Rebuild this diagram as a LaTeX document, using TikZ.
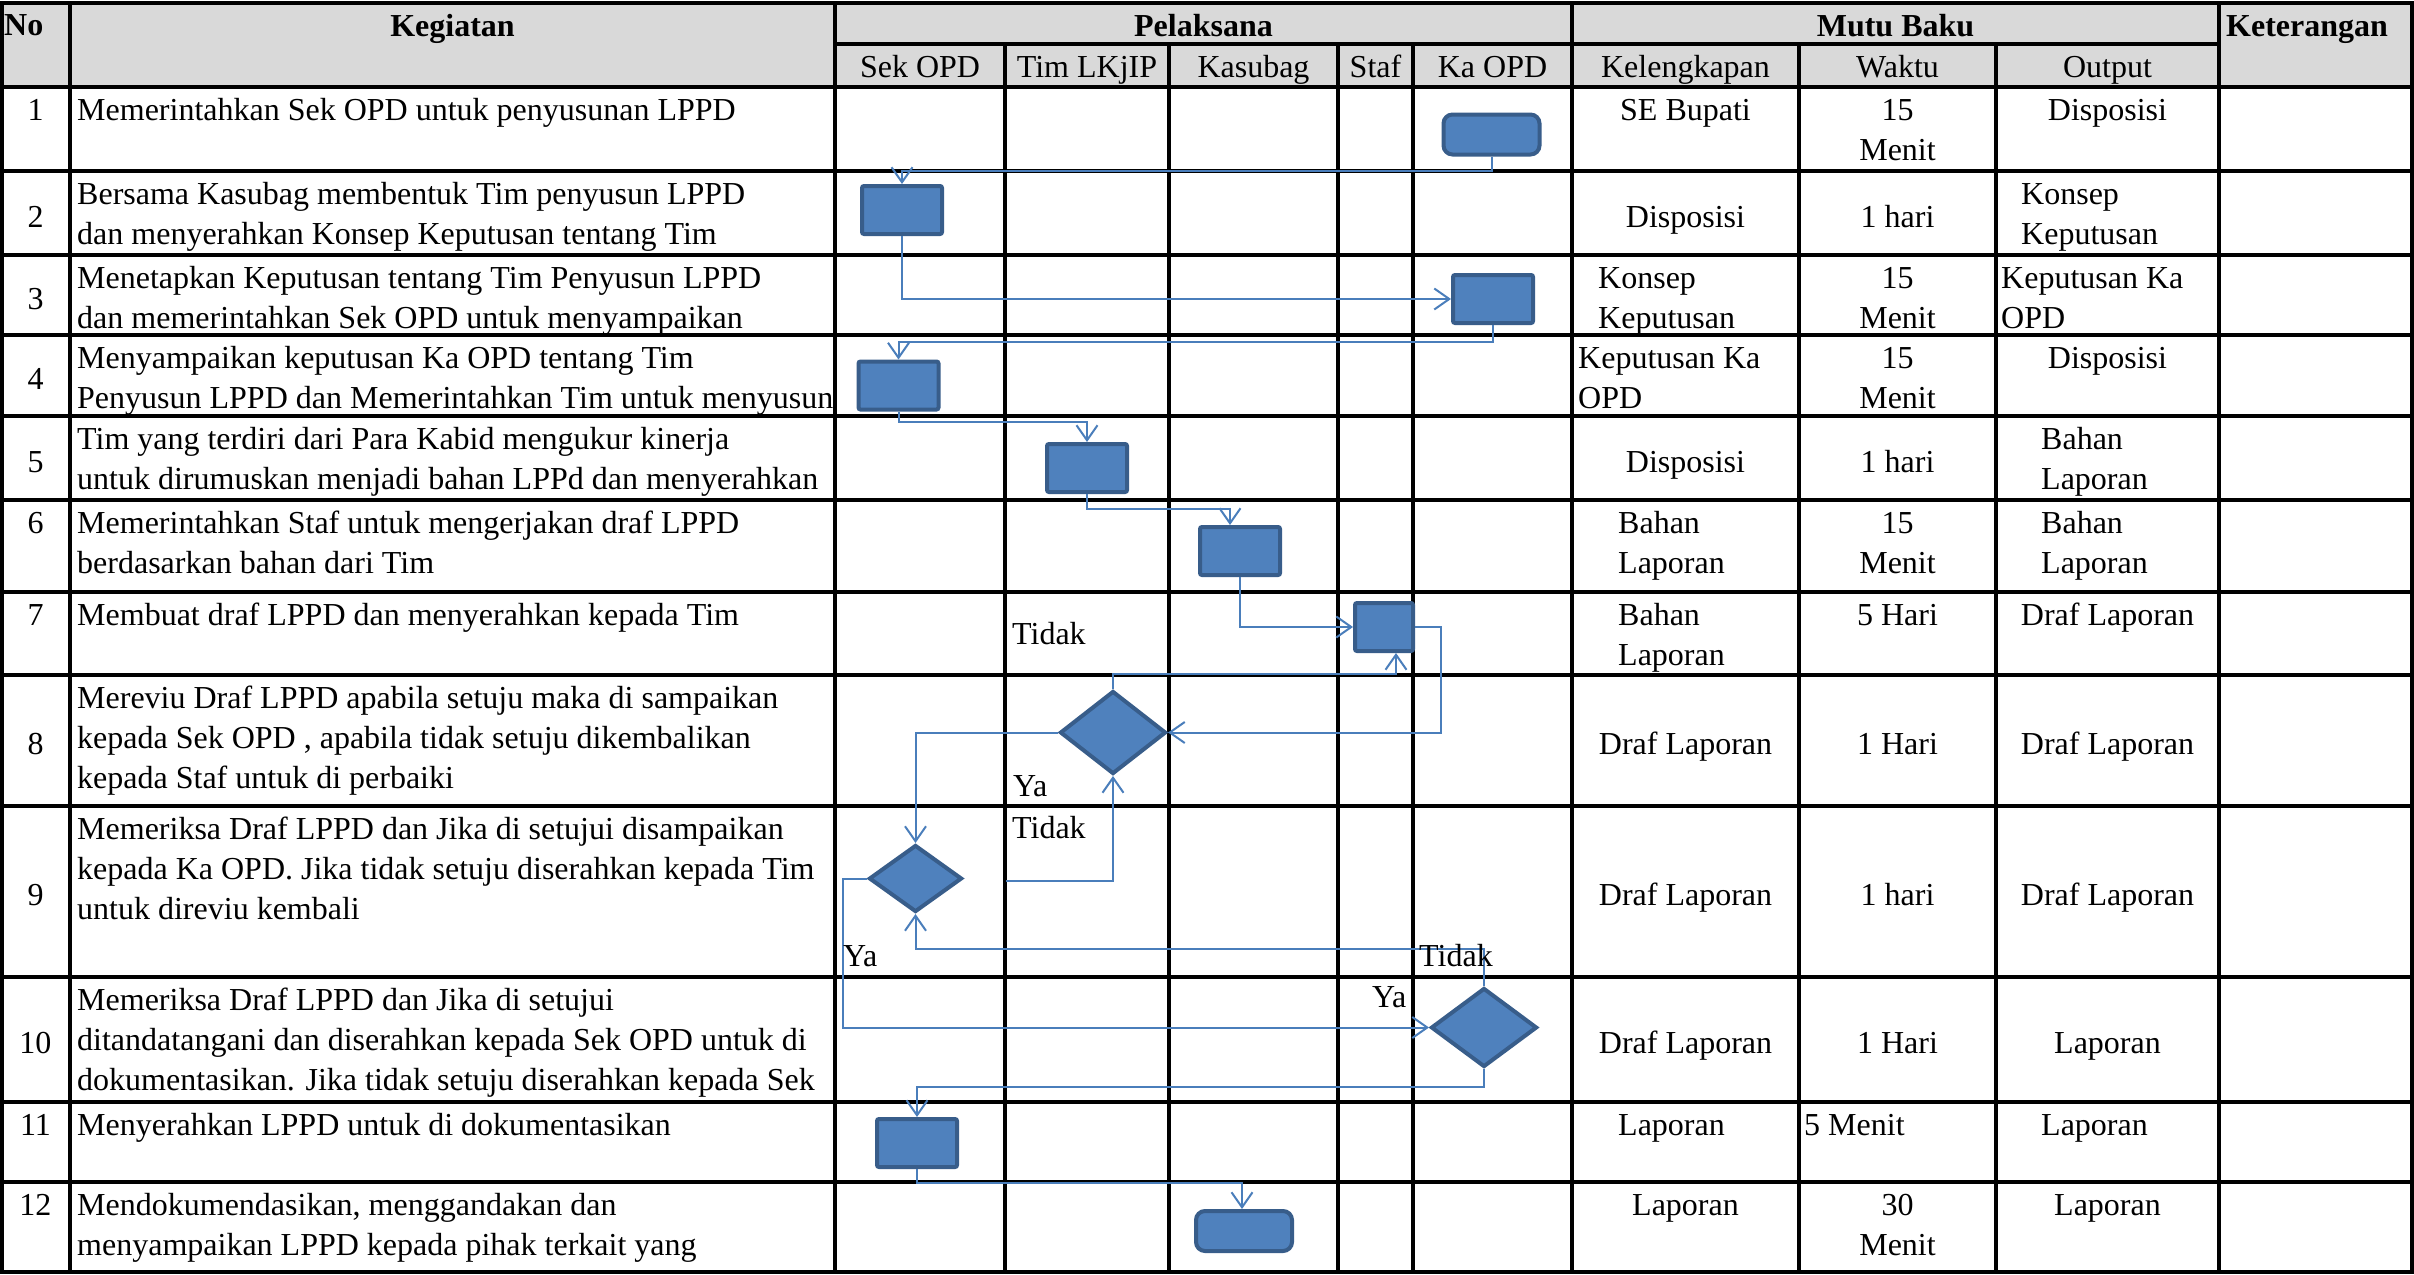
\documentclass[tikz,border=0pt]{standalone}
\usepackage{fontspec}
\setmainfont{Liberation Serif}
\usetikzlibrary{arrows.meta,shapes.geometric,calc}
\definecolor{boxfill}{HTML}{4F81BD}
\definecolor{boxline}{HTML}{385D8A}
\definecolor{connc}{HTML}{4A7EBB}
\definecolor{hdr}{HTML}{D9D9D9}
\newfontfamily\tnr{Liberation Serif}
\newcommand\tf{\tnr\fontsize{32}{40}\selectfont}
\begin{document}
\begin{tikzpicture}[x=1pt,y=-1pt,
  gridline/.style={line width=3.8pt,black},
  tl/.style={inner sep=0pt,font=\tf,align=left,anchor=north west,yshift=-4pt},
  tc/.style={inner sep=0pt,font=\tf,align=center,anchor=north,yshift=-4pt},
  htl/.style={inner sep=0pt,font=\tf,align=left,anchor=north west,yshift=-1.5pt},
  htc/.style={inner sep=0pt,font=\tf,align=center,anchor=north,yshift=-1.5pt},
  lab/.style={inner sep=0pt,font=\tf,anchor=north west},
  hb/.style={font=\tf\bfseries},
  procbox/.style={draw=boxline,fill=boxfill,line width=4pt,rounded corners=2pt,inner sep=0pt,minimum width=80pt,minimum height=48pt},
  termbox/.style={draw=boxline,fill=boxfill,line width=4pt,rounded corners=9pt,inner sep=0pt,minimum width=96pt,minimum height=40pt},
  decbox/.style={diamond,draw=boxline,fill=boxfill,line width=4pt,inner sep=0pt},
  conn/.style={draw=connc,line width=2pt,-{Straight Barb[length=15pt,width=21pt]}}]
\useasboundingbox (0,0) rectangle (2414,1274);
\fill[white] (0,0) rectangle (2414,1274);
\fill[hdr] (2,3) rectangle (2412,87);

% header texts
\node[htl,hb] (hno) at (4,6) {\strut No};
\node[htc,hb] (hkeg) at (452.5,7) {\strut Kegiatan};
\node[htc,hb] (hpel) at (1203.5,7) {\strut Pelaksana};
\node[htc,hb] (hmutu) at (1895.5,7) {\strut Mutu Baku};
\node[htl,hb] (hket) at (2226,7) {\strut Keterangan};
\node[htc] (hsek) at (920,48) {\strut Sek OPD};
\node[htc] (htim) at (1087,48) {\strut Tim LKjIP};
\node[htc] (hkas) at (1253.5,48) {\strut Kasubag};
\node[htc] (hstaf) at (1375.5,48) {\strut Staf};
\node[htc] (hka) at (1492.5,48) {\strut Ka OPD};
\node[htc] (hkel) at (1685.5,48) {\strut Kelengkapan};
\node[htc] (hwak) at (1897.5,48) {\strut Waktu};
\node[htc] (hout) at (2107.5,48) {\strut Output};

% numbers
\node[tc] (n1) at (35.5,88) {\strut 1};
\node[tc] (n2) at (35.5,195) {\strut 2};
\node[tc] (n3) at (35.5,277) {\strut 3};
\node[tc] (n4) at (35.5,357.5) {\strut 4};
\node[tc] (n5) at (35.5,440) {\strut 5};
\node[tc] (n6) at (35.5,501) {\strut 6};
\node[tc] (n7) at (35.5,593) {\strut 7};
\node[tc] (n8) at (35.5,722.5) {\strut 8};
\node[tc] (n9) at (35.5,873.5) {\strut 9};
\node[tc] (n10) at (35.5,1021.5) {\strut 10};
\node[tc] (n11) at (35.5,1103) {\strut 11};
\node[tc] (n12) at (35.5,1183) {\strut 12};

% kegiatan
\node[tl] (k1) at (77,88) {\strut Memerintahkan Sek OPD untuk penyusunan LPPD};
\node[tl] (k2) at (77,172) {\strut Bersama Kasubag membentuk Tim penyusun LPPD\\dan menyerahkan Konsep Keputusan tentang Tim};
\node[tl] (k3) at (77,256) {\strut Menetapkan Keputusan tentang Tim Penyusun LPPD\\dan memerintahkan Sek OPD untuk menyampaikan};
\node[tl] (k4) at (77,336) {\strut Menyampaikan keputusan Ka OPD tentang Tim\\Penyusun LPPD dan Memerintahkan Tim untuk menyusun};
\node[tl] (k5) at (77,417) {\strut Tim yang terdiri dari Para Kabid mengukur kinerja\\untuk dirumuskan menjadi bahan LPPd dan menyerahkan};
\node[tl] (k6) at (77,501) {\strut Memerintahkan Staf untuk mengerjakan draf LPPD\\berdasarkan bahan dari Tim};
\node[tl] (k7) at (77,593) {\strut Membuat draf LPPD dan menyerahkan kepada Tim};
\node[tl] (k8) at (77,676) {\strut Mereviu Draf LPPD apabila setuju maka di sampaikan\\kepada Sek OPD , apabila tidak setuju dikembalikan\\kepada Staf untuk di perbaiki};
\node[tl] (k9) at (77,807) {\strut Memeriksa Draf LPPD dan Jika di setujui disampaikan\\kepada Ka OPD. Jika tidak setuju diserahkan kepada Tim\\untuk direviu kembali};
\node[tl] (k10) at (77,978) {\strut Memeriksa Draf LPPD dan Jika di setujui\\ditandatangani dan diserahkan kepada Sek OPD untuk di\\dokumentasikan. Jika tidak setuju diserahkan kepada Sek};
\node[tl] (k11) at (77,1103) {\strut Menyerahkan LPPD untuk di dokumentasikan};
\node[tl] (k12) at (77,1183) {\strut Mendokumendasikan, menggandakan dan\\menyampaikan LPPD kepada pihak terkait yang};

% mutu baku
\node[tc] (a1) at (1685.5,88) {\strut SE Bupati};
\node[tc] (b1) at (1897.5,88) {\strut 15\\Menit};
\node[tc] (c1) at (2107.5,88) {\strut Disposisi};
\node[tc] (a2) at (1685.5,195) {\strut Disposisi};
\node[tc] (b2) at (1897.5,195) {\strut 1 hari};
\node[tl] (c2) at (2021,172) {\strut Konsep\\Keputusan};
\node[tl] (a3) at (1598,256) {\strut Konsep\\Keputusan};
\node[tc] (b3) at (1897.5,256) {\strut 15\\Menit};
\node[tl] (c3) at (2001,256) {\strut Keputusan Ka\\OPD};
\node[tl] (a4) at (1578,336) {\strut Keputusan Ka\\OPD};
\node[tc] (b4) at (1897.5,336) {\strut 15\\Menit};
\node[tc] (c4) at (2107.5,336) {\strut Disposisi};
\node[tc] (a5) at (1685.5,440) {\strut Disposisi};
\node[tc] (b5) at (1897.5,440) {\strut 1 hari};
\node[tl] (c5) at (2041,417) {\strut Bahan\\Laporan};
\node[tl] (a6) at (1618,501) {\strut Bahan\\Laporan};
\node[tc] (b6) at (1897.5,501) {\strut 15\\Menit};
\node[tl] (c6) at (2041,501) {\strut Bahan\\Laporan};
\node[tl] (a7) at (1618,593) {\strut Bahan\\Laporan};
\node[tc] (b7) at (1897.5,593) {\strut 5 Hari};
\node[tc] (c7) at (2107.5,593) {\strut Draf Laporan};
\node[tc] (a8) at (1685.5,722.5) {\strut Draf Laporan};
\node[tc] (b8) at (1897.5,722.5) {\strut 1 Hari};
\node[tc] (c8) at (2107.5,722.5) {\strut Draf Laporan};
\node[tc] (a9) at (1685.5,873.5) {\strut Draf Laporan};
\node[tc] (b9) at (1897.5,873.5) {\strut 1 hari};
\node[tc] (c9) at (2107.5,873.5) {\strut Draf Laporan};
\node[tc] (a10) at (1685.5,1021.5) {\strut Draf Laporan};
\node[tc] (b10) at (1897.5,1021.5) {\strut 1 Hari};
\node[tc] (c10) at (2107.5,1021.5) {\strut Laporan};
\node[tl] (a11) at (1618,1103) {\strut Laporan};
\node[tl] (b11) at (1804,1103) {\strut 5 Menit};
\node[tl] (c11) at (2041,1103) {\strut Laporan};
\node[tc] (a12) at (1685.5,1183) {\strut Laporan};
\node[tc] (b12) at (1897.5,1183) {\strut 30\\Menit};
\node[tc] (c12) at (2107.5,1183) {\strut Laporan};

% grid
\foreach \yy in {3,87,171,255,335,416,500,592,675,806,977,1102,1182,1272}
  \draw[gridline] (0,\yy) -- (2414,\yy);
\draw[gridline] (835,44) -- (2219,44);
\foreach \xx in {2,70,835,1572,2219,2412}
  \draw[gridline] (\xx,1) -- (\xx,1274);
\foreach \xx in {1005,1169,1338,1413,1799,1996}
  \draw[gridline] (\xx,44) -- (\xx,1274);

% shapes
\node[termbox] (t1) at (1491.5,134.5) {};
\node[procbox] (p2) at (902,210) {};
\node[procbox] (p3) at (1493,299) {};
\node[procbox] (p4) at (898.5,385.5) {};
\node[procbox] (p5) at (1087,468) {};
\node[procbox] (p6) at (1240,551) {};
\node[procbox,minimum width=58pt] (p7) at (1384,627) {};
\node[decbox,minimum width=106pt,minimum height=83pt] (d8) at (1113,732.5) {};
\node[decbox,minimum width=93pt,minimum height=67pt] (d9) at (915.5,878.5) {};
\node[decbox,minimum width=106pt,minimum height=79pt] (d10) at (1484,1027.5) {};
\node[procbox] (p11) at (917,1143) {};
\node[termbox] (t12) at (1244,1231) {};
\coordinate (s9) at (1006,881);

% connectors
\draw[conn] (t1.south) |- ($(p2.north)+(0,-13)$) -- (p2.north);
\draw[conn] (p2.south) |- (p3.west);
\draw[conn] (p3.south) |- ($(p4.north)+(0,-18)$) -- (p4.north);
\draw[conn] (p4.south) |- ($(p5.north)+(0,-20)$) -- (p5.north);
\draw[conn] (p5.south) |- ($(p6.north)+(-10,-16)$) -- ($(p6.north)+(-10,0)$);
\draw[conn] (p6.south) |- (p7.west);
\draw[conn] (p7.east) -- ++(26,0) |- (d8.east);
\draw[conn] (d8.north) |- ($(p7.south)+(12,21)$) -- ($(p7.south)+(12,0)$);
\draw[conn] (d8.west) -| (d9.north);
\draw[conn] (s9) -| (d8.south);
\draw[conn] (d9.west) -- ++(-24,0) |- (d10.west);
\draw[conn] (d10.north) |- ($(d9.south)+(0,35)$) -- (d9.south);
\draw[conn] (d10.south) |- ($(p11.north)+(0,-30)$) -- (p11.north);
\draw[conn] (p11.south) |- ($(t12.north)+(-2,-26)$) -- ($(t12.north)+(-2,0)$);

% labels
\node[lab] (l1) at (1012,616) {\strut Tidak};
\node[lab] (l2) at (1013,768) {\strut Ya};
\node[lab] (l3) at (1012,810) {\strut Tidak};
\node[lab] (l4) at (843,938) {\strut Ya};
\node[lab] (l5) at (1419,938) {\strut Tidak};
\node[lab] (l6) at (1372,979) {\strut Ya};
\end{tikzpicture}
\end{document}
